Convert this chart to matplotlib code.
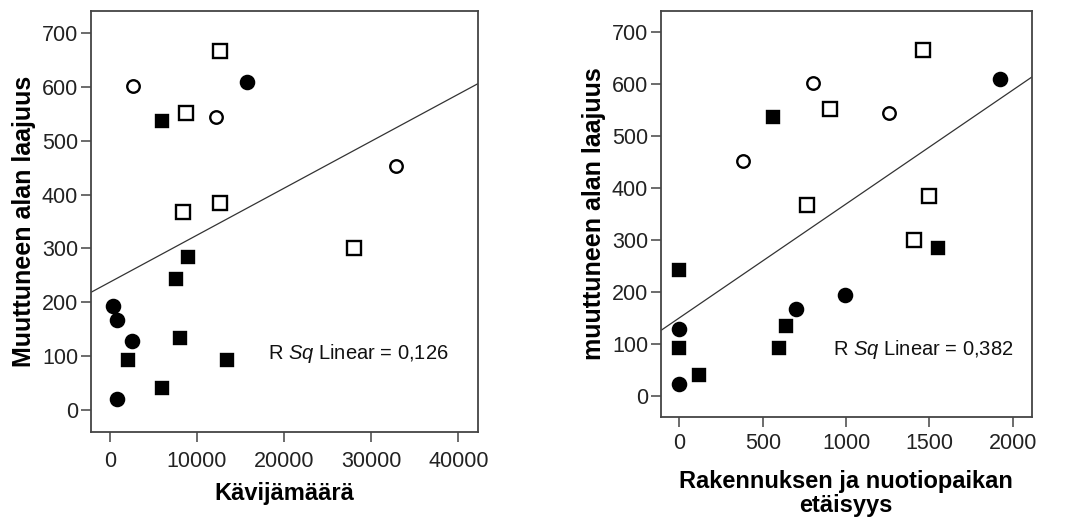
import numpy as np
import matplotlib
matplotlib.use("Agg")
import matplotlib.pyplot as plt

plt.rcParams['font.family'] = ['Liberation Sans', 'DejaVu Sans']
plt.rcParams['mathtext.fontset'] = 'custom'
plt.rcParams['mathtext.rm'] = 'Liberation Sans'
plt.rcParams['mathtext.it'] = 'Liberation Sans:italic'

# one row per site: changed area, visitors, distance building-campfire, marker group
area = [665, 609, 601, 551, 544, 537, 452, 385, 368, 300,
        285, 243, 194, 167, 134, 129, 93, 93, 41, 22]
visitors = [12630, 15700, 2680, 8690, 12170, 6010, 32840, 12670, 8380, 28020,
            8960, 7620, 340, 840, 8080, 2530, 2100, 13440, 6010, 840]
distance = [1464, 1924, 800, 904, 1260, 564, 380, 1500, 764, 1410,
            1552, 0, 994, 700, 640, 0, 0, 600, 120, 0]
group = ['os', 'fc', 'oc', 'os', 'oc', 'fs', 'oc', 'os', 'os', 'os',
         'fs', 'fs', 'fc', 'fc', 'fs', 'fc', 'fs', 'fs', 'fs', 'fc']
r2_texts = ['0,126', '0,382']

styles = {
    'fc': dict(marker='o', mfc='black', ms=9.5),
    'oc': dict(marker='o', mfc='white', ms=9),
    'fs': dict(marker='s', mfc='black', ms=9),
    'os': dict(marker='s', mfc='white', ms=9.5),
}

area = np.array(area)
fig = plt.figure(figsize=(10.83, 5.22), dpi=100)
ax1 = fig.add_axes([0.0837, 0.1724, 0.3577, 0.8065])
ax2 = fig.add_axes([0.6101, 0.2017, 0.3426, 0.7772])

panels = [
    (ax1, np.array(visitors), (-2216, 42260), [0, 10000, 20000, 30000, 40000],
     'Muuttuneen alan laajuus', 'Kävijämäärä', (18150, 106), r2_texts[0], 7, 7),
    (ax2, np.array(distance), (-112, 2114), [0, 500, 1000, 1500, 2000],
     'muuttuneen alan laajuus', 'Rakennuksen ja nuotiopaikan\netäisyys', (920, 90), r2_texts[1], 5, 11),
]

for ax, x, xlim, xticks, ylab, xlab, txt_pos, r2, xpad, lpad in panels:
    for g, st in styles.items():
        m = np.array(group) == g
        ax.plot(x[m], area[m], linestyle='none', mec='black', mew=1.7, **st, zorder=3)

    # linear fit across the whole axis
    k, b = np.polyfit(x, area, 1)
    xs = np.array(xlim)
    ax.plot(xs, k * xs + b, color='#333333', lw=0.9, zorder=2)

    ax.set_xlim(xlim)
    ax.set_ylim(-40, 740)
    ax.set_xticks(xticks)
    ax.set_yticks([0, 100, 200, 300, 400, 500, 600, 700])
    ax.tick_params(direction='out', length=7, width=1.1, color='#444444',
                   labelsize=15.5, labelcolor='#222222')
    ax.tick_params(axis='y', pad=2)
    ax.tick_params(axis='x', pad=xpad)
    for s in ax.spines.values():
        s.set_color('#444444')
        s.set_linewidth(1.3)
    ax.set_ylabel(ylab, fontsize=18, fontweight='bold', labelpad=4)
    ax.set_xlabel(xlab, fontsize=17, fontweight='bold', labelpad=lpad, linespacing=1.05)
    ax.text(txt_pos[0], txt_pos[1], r'R $\it{Sq}$ Linear = ' + r2,
            fontsize=14.5, va='center', ha='left', color='#111111')

fig.savefig('out.png', dpi=100)
